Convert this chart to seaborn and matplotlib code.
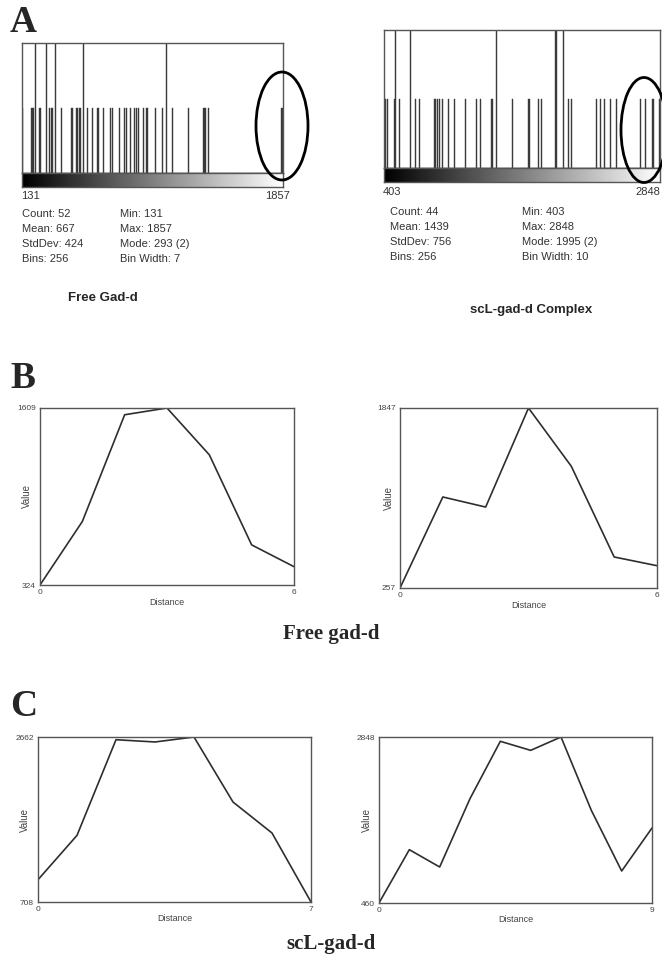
import numpy as np
import pandas as pd
import matplotlib
matplotlib.use("Agg")
import matplotlib.pyplot as plt
from matplotlib.patches import Ellipse
import seaborn as sns

sns.set_style("white")
plt.rcParams['font.family'] = ['Liberation Sans', 'DejaVu Sans']

# ---------------- data ----------------
# Panel A: individual pixel values (histogram input)
free_values = [131, 197, 204, 210, 219, 219, 248, 256, 293, 296, 307, 322, 333, 351, 351,
               388, 456, 467, 494, 500, 509, 522, 538, 538, 566, 599, 630, 641, 670,
               714, 725, 775, 808, 819, 852, 879, 890, 901, 940, 956, 967, 1011, 1055,
               1083, 1083, 1127, 1230, 1334, 1340, 1362, 1846, 1857]
complex_values = [403, 418, 433, 489, 504, 504, 542, 640, 640, 684, 713, 846, 861, 876,
                  897, 926, 971, 1030, 1124, 1222, 1257, 1349, 1364, 1399, 1399, 1541,
                  1683, 1769, 1798, 1925, 1925, 1995, 1995, 2044, 2056, 2286, 2321, 2360,
                  2410, 2463, 2670, 2723, 2789, 2848]
free_stats_left = ["Count: 52", "Mean: 667", "StdDev: 424", "Bins: 256"]
free_stats_right = ["Min: 131", "Max: 1857", "Mode: 293 (2)", "Bin Width: 7"]
cplx_stats_left = ["Count: 44", "Mean: 1439", "StdDev: 756", "Bins: 256"]
cplx_stats_right = ["Min: 403", "Max: 2848", "Mode: 1995 (2)", "Bin Width: 10"]

# Panel B: line profiles of free gad-d
b1_dist = [0, 1, 2, 3, 4, 5, 6]
b1_vals = [324, 785, 1560, 1609, 1269, 615, 457]
b2_dist = [0, 1, 2, 3, 4, 5, 6]
b2_vals = [257, 1061, 972, 1847, 1332, 531, 454]

# Panel C: line profiles of scL-gad-d
c1_dist = [0, 1, 2, 3, 4, 5, 6, 7]
c1_vals = [972, 1497, 2630, 2603, 2662, 1892, 1525, 708]
c2_dist = [0, 1, 2, 3, 4, 5, 6, 7, 8, 9]
c2_vals = [460, 1227, 978, 1961, 2786, 2656, 2848, 1793, 920, 1539]

# ---------------- layout helpers ----------------
W, H = 662, 963
fig = plt.figure(figsize=(W / 100, H / 100), dpi=100)
fig.patch.set_facecolor("white")


def rect(x0, y0, x1, y1):
    return [x0 / W, 1 - y1 / H, (x1 - x0) / W, (y1 - y0) / H]


FRAME = "#555555"
NARROW = ['Liberation Sans Narrow', 'Liberation Sans', 'DejaVu Sans']


def histogram(values, box, cbox, vmin, vmax):
    ax = fig.add_axes(rect(*box))
    sns.histplot(x=values, bins=256, binrange=(vmin, vmax), color="#3a3a3a",
                 edgecolor="#3a3a3a", linewidth=0.3, alpha=1, ax=ax)
    ax.set_xlim(vmin, vmax)
    ax.set_ylim(0, 2)
    ax.set_xticks([])
    ax.set_yticks([])
    ax.set_xlabel("")
    ax.set_ylabel("")
    for s in ax.spines.values():
        s.set_color(FRAME)
        s.set_linewidth(1.0)
    cax = fig.add_axes(rect(*cbox))
    cax.imshow(np.linspace(0, 1, 256)[None, :], cmap="gray", aspect="auto")
    cax.set_xticks([])
    cax.set_yticks([])
    for s in cax.spines.values():
        s.set_color(FRAME)
        s.set_linewidth(1.0)
    return ax


def profile(dist, vals, box, lx, ly):
    ax = fig.add_axes(rect(*box))
    sns.lineplot(x=dist, y=vals, color="#2e2e2e", linewidth=1.2, ax=ax)
    ax.set_xlim(min(dist), max(dist))
    ax.set_ylim(min(vals), max(vals))
    ax.set_xticks([min(dist), max(dist)])
    ax.set_yticks([min(vals), max(vals)])
    ax.tick_params(length=0, labelsize=6, labelcolor="#444444", pad=3)
    for lab in ax.get_xticklabels() + ax.get_yticklabels():
        lab.set_family(NARROW)
    ax.set_xlabel("Distance", fontsize=6.5, color="#444444", family=NARROW)
    ax.set_ylabel("Value", fontsize=7, color="#444444", family=NARROW)
    ax.xaxis.set_label_coords(0.5, lx)
    ax.yaxis.set_label_coords(ly, 0.5)
    for s in ax.spines.values():
        s.set_color(FRAME)
        s.set_linewidth(1.0)
    return ax


# ---------------- panel A ----------------
histogram(free_values, (22, 43, 283, 173), (22, 173, 283, 187), 131, 1857)
histogram(complex_values, (384, 30, 660, 168), (384, 168, 660, 182), 403, 2848)

# ---------------- panel B / C ----------------
profile(b1_dist, b1_vals, (40, 408, 294, 585), -0.075, -0.03)
profile(b2_dist, b2_vals, (400, 408, 657, 588), -0.075, -0.025)
profile(c1_dist, c1_vals, (38, 737, 311, 902), -0.075, -0.03)
profile(c2_dist, c2_vals, (379, 737, 652, 903), -0.075, -0.026)

# ---------------- overlay for annotations ----------------
ov = fig.add_axes([0, 0, 1, 1], facecolor="none")
ov.set_xlim(0, W)
ov.set_ylim(H, 0)
ov.axis("off")

serif = ['Liberation Serif', 'DejaVu Serif']
for lab, y in [("A", 23), ("B", 378), ("C", 706)]:
    ov.text(10, y, lab, fontsize=27, fontweight="bold", family=serif,
            ha="left", va="center")

txt_kw = dict(fontsize=8, color="#333333", ha="left", va="center")
ov.text(21, 196, str(min(free_values)), **txt_kw)
ov.text(290, 196, str(max(free_values)), **{**txt_kw, "ha": "right"})
ov.text(383, 192, str(min(complex_values)), **txt_kw)
ov.text(660, 192, str(max(complex_values)), **{**txt_kw, "ha": "right"})

for i, (l, r) in enumerate(zip(free_stats_left, free_stats_right)):
    ov.text(22, 214 + 15 * i, l, **txt_kw)
    ov.text(120, 214 + 15 * i, r, **txt_kw)
for i, (l, r) in enumerate(zip(cplx_stats_left, cplx_stats_right)):
    ov.text(390, 212 + 15 * i, l, **txt_kw)
    ov.text(522, 212 + 15 * i, r, **txt_kw)

ov.text(103, 298, "Free Gad-d", fontsize=9.5, fontweight="bold", ha="center", va="center")
ov.text(531, 310, "scL-gad-d Complex", fontsize=9.5, fontweight="bold", ha="center", va="center")

ov.add_patch(Ellipse((282, 126), 52, 108, fill=False, edgecolor="black", linewidth=2.0))
ov.add_patch(Ellipse((644, 130), 46, 105, fill=False, edgecolor="black", linewidth=2.0))

ov.text(331, 634, "Free gad-d", fontsize=15, fontweight="bold", family=serif,
        ha="center", va="center")
ov.text(331, 944, "scL-gad-d", fontsize=15, fontweight="bold", family=serif,
        ha="center", va="center")

fig.savefig("out.png", dpi=100, facecolor="white")
